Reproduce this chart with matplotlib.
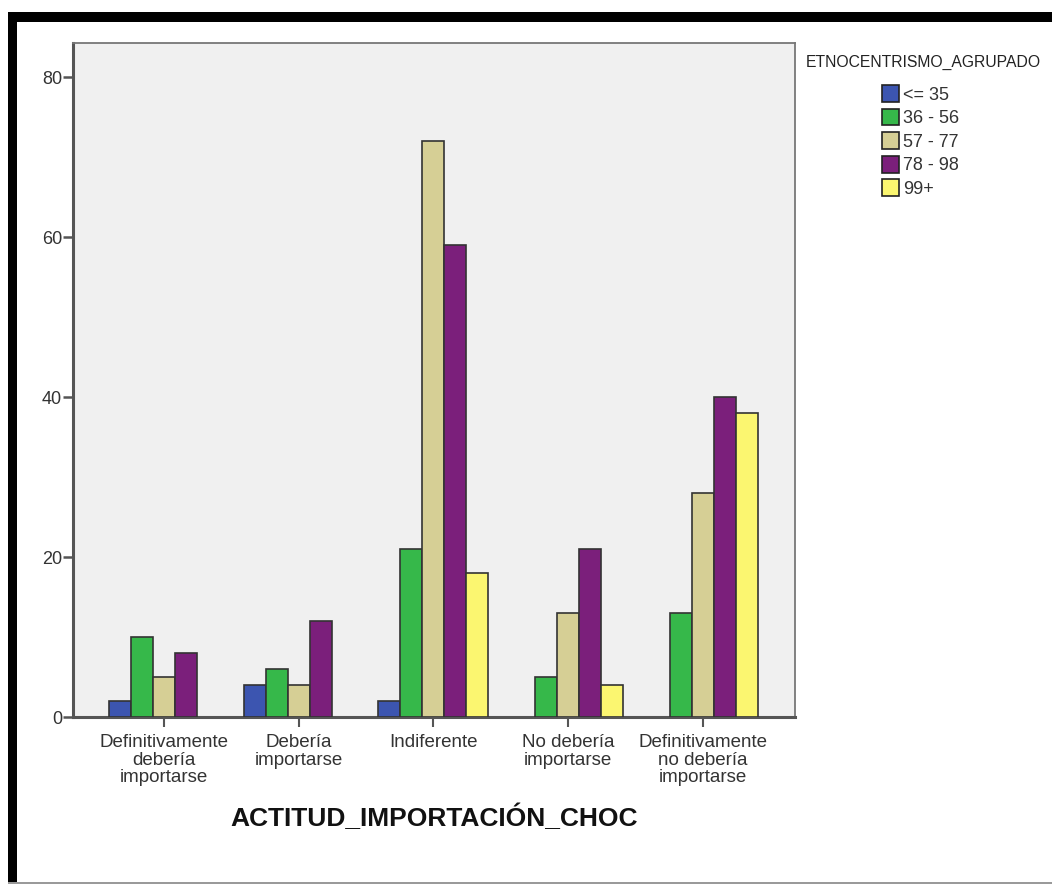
import matplotlib
matplotlib.use("Agg")
import matplotlib.pyplot as plt
import numpy as np
from matplotlib.patches import Rectangle, Patch

# Data
categories = ["Definitivamente\ndebería\nimportarse", "Debería\nimportarse", "Indiferente",
              "No debería\nimportarse", "Definitivamente\nno debería\nimportarse"]
groups = ["<= 35", "36 - 56", "57 - 77", "78 - 98", "99+"]
counts_le35 = [2, 4, 2, 0, 0]
counts_36_56 = [10, 6, 21, 5, 13]
counts_57_77 = [5, 4, 72, 13, 28]
counts_78_98 = [8, 12, 59, 21, 40]
counts_99p = [0, 0, 18, 4, 38]
series = [counts_le35, counts_36_56, counts_57_77, counts_78_98, counts_99p]
colors = ["#3c55b0", "#36b84a", "#d6cf95", "#7b1f7b", "#fbf670"]

plt.rcParams['font.family'] = ['Liberation Sans', 'DejaVu Sans']

W, H = 1052, 884
fig = plt.figure(figsize=(W / 100, H / 100), dpi=100)

# Outer frame: thick black top/left, thin grey bottom
fig.add_artist(Rectangle((8 / W, 0), 9 / W, 1 - 12 / H, transform=fig.transFigure,
                         facecolor="black", edgecolor="none"))
fig.add_artist(Rectangle((8 / W, 1 - 22 / H), 1 - 8 / W, 10 / H, transform=fig.transFigure,
                         facecolor="black", edgecolor="none"))
fig.add_artist(Rectangle((8 / W, 0), 1 - 8 / W, 2 / H, transform=fig.transFigure,
                         facecolor="#9a9a9a", edgecolor="none"))

ax_l, ax_r, ax_t, ax_b = 73, 795, 43, 717
ax = fig.add_axes([ax_l / W, 1 - ax_b / H, (ax_r - ax_l) / W, (ax_b - ax_t) / H])
ax.set_facecolor("#f0f0f0")

x = np.arange(len(categories))
width = 0.1636
for i, (vals, col) in enumerate(zip(series, colors)):
    v = np.array(vals, dtype=float)
    mask = v > 0
    ax.bar(x[mask] + (i - 2) * width, v[mask], width=width, color=col,
           edgecolor="#333333", linewidth=1.2, zorder=3)

ax.set_xlim(-0.677, 4.686)
ax.set_ylim(0, 84.25)
ax.set_yticks([0, 20, 40, 60, 80])
ax.set_xticks(x)
ax.set_xticklabels(categories, fontsize=13.5, color="#333333", linespacing=1.07)
ax.tick_params(axis="y", labelsize=13, labelcolor="#333333", length=7, width=1.8,
               color="#555555", pad=1)
ax.tick_params(axis="x", length=7, width=1.5, color="#555555", pad=5)

for s in ["left", "bottom"]:
    ax.spines[s].set_color("#555555")
    ax.spines[s].set_linewidth(2.2)
for s in ["top", "right"]:
    ax.spines[s].set_color("#777777")
    ax.spines[s].set_linewidth(1.3)

fig.text((ax_l + ax_r) / 2 / W, 1 - 818 / H, "ACTITUD_IMPORTACIÓN_CHOC",
         ha="center", va="center", fontsize=19, fontweight="bold", color="#111111")

# Legend
fig.text(806 / W, 1 - 62 / H, "ETNOCENTRISMO_AGRUPADO", ha="left", va="center",
         fontsize=11.3, color="#222222")
handles = [Patch(facecolor=c, edgecolor="#222222", linewidth=1.2) for c in colors]
fig.legend(handles, groups, loc="upper left", bbox_to_anchor=(882 / W, 1 - 85 / H),
           frameon=False, fontsize=13, handlelength=0.95, handleheight=1.05,
           handletextpad=0.2, labelspacing=0.28, borderpad=0, borderaxespad=0,
           labelcolor="#333333")

fig.savefig("out.png", dpi=100)
